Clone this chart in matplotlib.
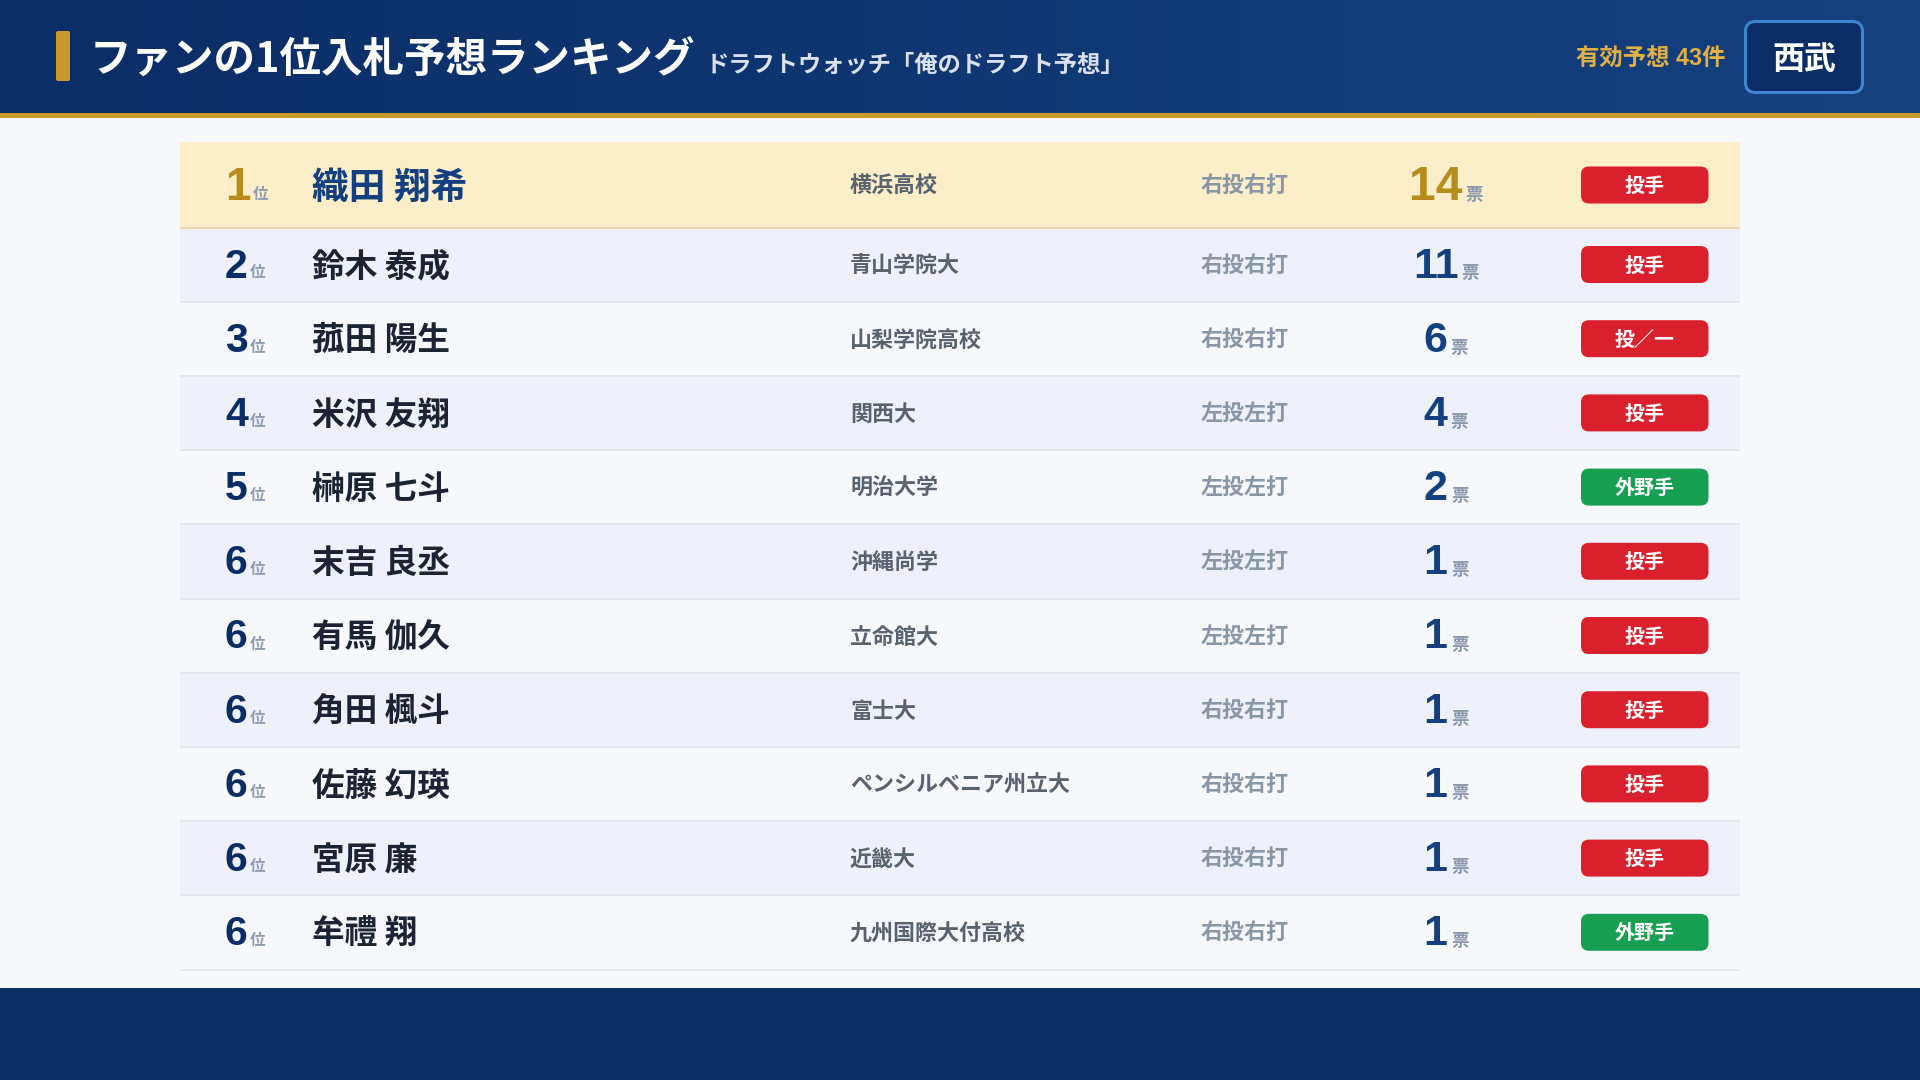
import matplotlib
matplotlib.use("Agg")
import matplotlib.pyplot as plt
from matplotlib.colors import LinearSegmentedColormap
from matplotlib.patches import FancyBboxPatch, Rectangle
import numpy as np

plt.rcParams['font.family'] = ['Noto Sans CJK JP', 'DejaVu Sans']
plt.rcParams['font.weight'] = 'bold'

# chart data
ranks = [1, 2, 3, 4, 5, 6, 6, 6, 6, 6, 6]
names = ["織田 翔希", "鈴木 泰成", "菰田 陽生", "米沢 友翔", "榊原 七斗", "末吉 良丞",
         "有馬 伽久", "角田 楓斗", "佐藤 幻瑛", "宮原 廉", "牟禮 翔"]
schools = ["横浜高校", "青山学院大", "山梨学院高校", "関西大", "明治大学", "沖縄尚学",
           "立命館大", "富士大", "ペンシルベニア州立大", "近畿大", "九州国際大付高校"]
hands = ["右投右打", "右投右打", "右投右打", "左投左打", "左投左打", "左投左打",
         "左投左打", "右投右打", "右投右打", "右投右打", "右投右打"]
votes = [14, 11, 6, 4, 2, 1, 1, 1, 1, 1, 1]
positions = ["投手", "投手", "投／一", "投手", "外野手", "投手", "投手", "投手", "投手", "投手", "外野手"]

title = "ファンの1位入札予想ランキング"
subtitle = "ドラフトウォッチ「俺のドラフト予想」"
valid_label = "有効予想 43件"
team = "西武"

NAVY = "#0b2d66"
BLUE = "#14407f"
GOLD = "#c79a2b"
DARK_GOLD = "#b88c1a"
DIGIT_FONT = ['Liberation Sans', 'Noto Sans CJK JP']


def px(n):
    # css px to points at dpi 100
    return n * 0.72


fig = plt.figure(figsize=(19.2, 10.8), dpi=100, facecolor="#f7f8fc")
ax = fig.add_axes([0, 0, 1, 1])
ax.axis("off")

# header gradient
cmap = LinearSegmentedColormap.from_list("hdr", [NAVY, "#15417f"])
ax.imshow(np.linspace(0, 1, 256).reshape(1, -1), cmap=cmap, extent=(0, 1920, 113, 0),
          aspect="auto", zorder=0)
ax.set_xlim(0, 1920)
ax.set_ylim(1080, 0)

ax.add_patch(Rectangle((0, 113), 1920, 5, color=GOLD, lw=0, zorder=1))
ax.add_patch(Rectangle((0, 988), 1920, 92, color=NAVY, lw=0, zorder=1))
ax.add_patch(FancyBboxPatch((58, 33), 10, 46, boxstyle="round,pad=2,rounding_size=2",
                            fc=GOLD, ec="none", zorder=2))

renderer = fig.canvas.get_renderer()


def put(x, y, s, size, color, ha="left", family=None):
    t = ax.text(x, y, s, fontsize=px(size), color=color, ha=ha, va="baseline", zorder=4)
    if family:
        t.set_fontfamily(family)
    return t


def width(t):
    return t.get_window_extent(renderer).width


put(90, 73, title, 41.5, "white")
put(706, 72, subtitle, 23.3, "#d9e0ee")
put(1726, 65, valid_label, 23.4, "#e0b044", ha="right", family=DIGIT_FONT)

ax.add_patch(FancyBboxPatch((1756, 32), 96, 50, boxstyle="round,pad=10.5,rounding_size=10",
                            fc=NAVY, ec="#3f86d2", lw=2.2, zorder=2))
put(1804, 69, team, 32, "white", ha="center")

# rows
top = 142
for i, rank in enumerate(ranks):
    first = i == 0
    h = 85.5 if first else 74.2
    bottom = top + h
    mid = top + (43 if first else 37)
    if first:
        bg = "#fbeec8"
    elif i % 2 == 1:
        bg = "#eef1f9"
    else:
        bg = "#f7f8fc"
    ax.add_patch(Rectangle((180, top), 1560, h, color=bg, lw=0, zorder=1))
    ax.plot([180, 1740], [bottom, bottom], color="#e8d8a4" if first else "#e1e5ec",
            lw=1.3, zorder=2, solid_capstyle="butt")

    num_size = 46 if first else 41
    num_color = DARK_GOLD if first else NAVY
    base = mid + (15 if first else 13)
    t = put(225, base, str(rank), num_size, num_color, family=DIGIT_FONT)
    put(225 + width(t) + 2, base - (1 if first else 0), "位", 15.5, "#8e9bb1")

    put(312, base - 1, names[i], 36.7 if first else 32.7, BLUE if first else "#1b2334")
    put(850, mid + 8, schools[i], 22, "#59626f")
    put(1201, mid + 7, hands[i], 22, "#8896a8")

    # votes, group centred on the cell
    vt = put(0, base, str(votes[i]), 48 if first else 43, DARK_GOLD if first else BLUE, family=DIGIT_FONT)
    ut = put(0, base + (0 if first else 1), "票", 17.5, "#8a97ad")
    w_num, w_unit = width(vt), width(ut)
    start = 1446 - (w_num + 3 + w_unit) / 2
    vt.set_x(start)
    ut.set_x(start + w_num + 3)

    # position badge
    color = "#17a052" if positions[i] == "外野手" else "#db202d"
    ax.add_patch(FancyBboxPatch((1589, mid - 10.5), 111.5, 21, boxstyle="round,pad=8,rounding_size=8",
                                fc=color, ec="none", zorder=3))
    put(1644.5, mid + 7, positions[i], 20, "white", ha="center")
    top = bottom

fig.savefig("out.png", dpi=100, facecolor=fig.get_facecolor())
